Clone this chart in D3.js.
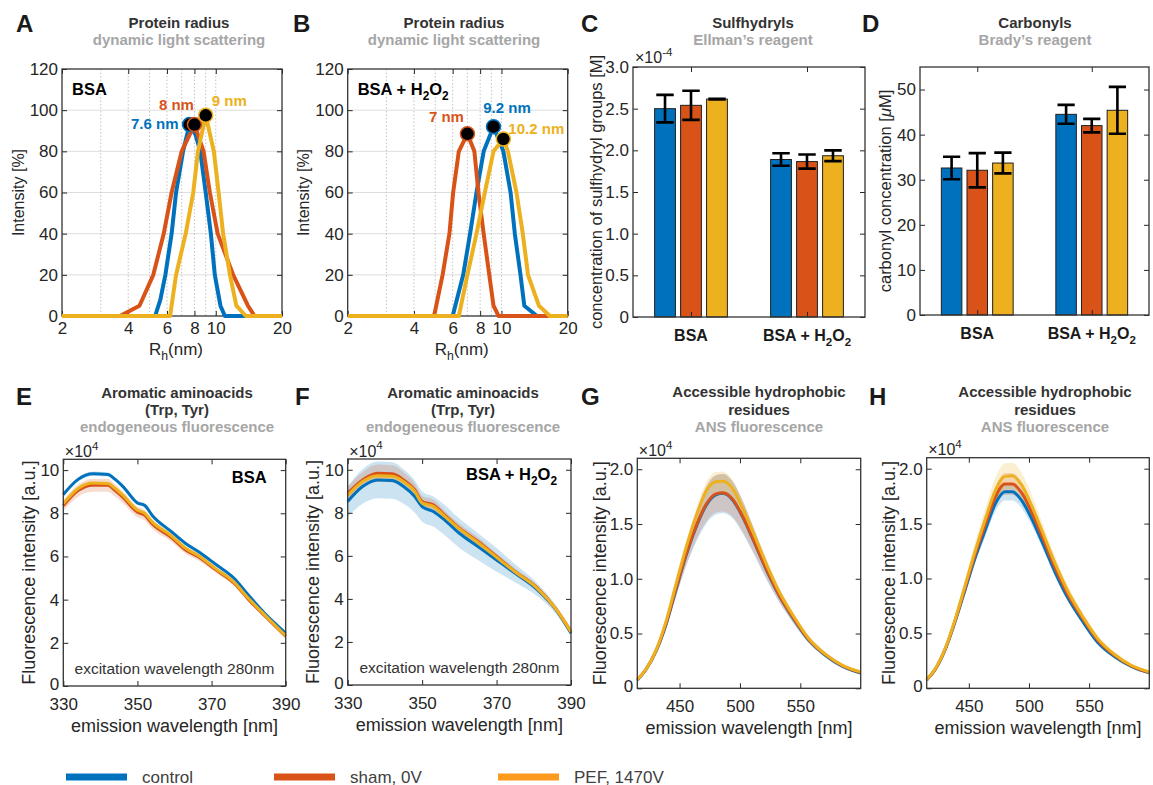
<!DOCTYPE html>
<html><head><meta charset="utf-8">
<script src="https://cdn.jsdelivr.net/npm/d3@7"></script>
<style>
body{margin:0;background:#fff;}
svg{display:block;font-family:"Liberation Sans",Arial,Helvetica,sans-serif;}
</style>
</head><body>
<svg id="fig" width="1153" height="785"></svg>
<script>
// ---------------- DATA ----------------
const seriesNames = ["control", "sham, 0V", "PEF, 1470V"];
const seriesColors = ["#0072BD", "#D95319", "#EDB120"];
const legendColors = ["#0072BD", "#D95319", "#FD9A1E"];

// DLS (A): BSA, radius [nm] vs intensity [%]
const dlsBSA_control_r = [2, 5.3, 5.6, 5.9, 6.3, 6.6, 7.1, 7.6, 8.1, 8.5, 9.0, 9.5, 9.9, 10.5, 11.0, 20];
const dlsBSA_control_i = [0, 0, 8, 20, 40, 60, 80, 93, 88, 80, 60, 40, 20, 5, 0, 0];
const dlsBSA_sham_r = [2, 3.67, 4.5, 5.2, 5.8, 6.3, 7.0, 8.0, 8.8, 9.4, 10.2, 12.0, 14.0, 15.0, 20];
const dlsBSA_sham_i = [0, 0, 5, 20, 40, 60, 80, 93, 80, 60, 40, 20, 5, 0, 0];
const dlsBSA_pef_r = [2, 6.2, 6.6, 7.3, 7.9, 8.3, 9.0, 9.8, 10.3, 10.8, 11.6, 12.4, 13.7, 20];
const dlsBSA_pef_i = [0, 0, 20, 40, 60, 80, 97.5, 80, 60, 40, 20, 5, 0, 0];
const peakBSA_r = [7.6, 8, 9];
const peakBSA_i = [93, 93, 97.5];
const peakBSA_labels = ["7.6 nm", "8 nm", "9 nm"];

// DLS (B): BSA + H2O2
const dlsH2O2_control_r = [2, 6.0, 6.7, 7.2, 7.7, 8.3, 9.2, 10.2, 11.0, 11.5, 12.2, 12.7, 14.5, 20];
const dlsH2O2_control_i = [0, 0, 20, 40, 60, 80, 92, 80, 60, 40, 20, 5, 0, 0];
const dlsH2O2_sham_r = [2, 4.94, 5.4, 5.8, 6.03, 6.4, 7.0, 7.53, 7.86, 8.3, 8.8, 9.2, 9.7, 20];
const dlsH2O2_sham_i = [0, 0, 20, 40, 60, 80, 88.5, 80, 60, 40, 20, 5, 0, 0];
const dlsH2O2_pef_r = [2, 6.4, 7.0, 7.7, 8.4, 9.2, 10.2, 10.7, 11.7, 12.5, 13.2, 14.8, 16.6, 20];
const dlsH2O2_pef_i = [0, 0, 20, 40, 60, 80, 86, 80, 60, 40, 20, 5, 0, 0];
const peakH2O2_r = [9.2, 7, 10.2];
const peakH2O2_i = [92, 88.5, 86];
const peakH2O2_labels = ["9.2 nm", "7 nm", "10.2 nm"];

const dlsTicks = [2, 4, 6, 8, 10, 20];
const dlsGridX = [3, 4, 5, 6, 7, 8, 9, 10];
const intensityTicks = [0, 20, 40, 60, 80, 100, 120];

// Bars (C, D)
const barGroups = ["BSA", "BSA + H2O2"];
const sulfhydrylMean = [[2.50e-4, 2.54e-4, 2.615e-4], [1.89e-4, 1.865e-4, 1.935e-4]];
const sulfhydrylErr = [[0.165e-4, 0.175e-4, 0.004e-4], [0.075e-4, 0.085e-4, 0.065e-4]];
const sulfhydrylTicks = [0, 0.5e-4, 1.0e-4, 1.5e-4, 2.0e-4, 2.5e-4, 3.0e-4];
const carbonylMean = [[32.6, 32.1, 33.7], [44.5, 42.0, 45.4]];
const carbonylErr = [[2.5, 3.8, 2.3], [2.1, 1.5, 5.2]];
const carbonylTicks = [0, 10, 20, 30, 40, 50];

// Fluorescence Trp/Tyr (E, F)  [x10^4 a.u.]
const trpBSA_wl = [330, 334, 338, 342, 344, 346, 350, 352, 354, 359, 363, 367, 371, 376, 380, 385, 390];
const trpBSA_control = [8.87, 9.57, 9.83, 9.8, 9.57, 9.26, 8.48, 8.36, 7.9, 7.17, 6.6, 6.16, 5.65, 5.0, 4.2, 3.25, 2.45];
const trpBSA_controlSd = [0.1, 0.1, 0.1, 0.1, 0.1, 0.1, 0.09, 0.09, 0.08, 0.08, 0.07, 0.07, 0.06, 0.06, 0.05, 0.05, 0.05];
const trpBSA_sham = [8.35, 9.05, 9.3, 9.3, 9.05, 8.75, 8.05, 7.9, 7.5, 6.9, 6.3, 5.92, 5.4, 4.77, 4.0, 3.14, 2.3];
const trpBSA_shamSd = [0.25, 0.28, 0.3, 0.3, 0.28, 0.27, 0.25, 0.24, 0.22, 0.2, 0.18, 0.16, 0.14, 0.12, 0.1, 0.08, 0.06];
const trpBSA_pef = [8.45, 9.15, 9.4, 9.38, 9.15, 8.85, 8.15, 8.0, 7.6, 6.98, 6.38, 5.98, 5.45, 4.82, 4.05, 3.18, 2.33];
const trpBSA_pefSd = [0.08, 0.08, 0.08, 0.08, 0.08, 0.08, 0.07, 0.07, 0.07, 0.06, 0.06, 0.06, 0.05, 0.05, 0.05, 0.04, 0.04];

const trpH2O2_wl = [330, 334, 338, 342, 345, 348, 350, 353, 356, 360, 365, 370, 375, 381, 386, 390];
const trpH2O2_control = [8.53, 9.22, 9.53, 9.5, 9.22, 8.76, 8.29, 8.06, 7.67, 7.05, 6.43, 5.81, 5.19, 4.42, 3.49, 2.4];
const trpH2O2_controlSd = [0.7, 0.8, 0.85, 0.85, 0.8, 0.75, 0.7, 0.7, 0.7, 0.68, 0.62, 0.55, 0.42, 0.3, 0.2, 0.1];
const trpH2O2_sham = [8.91, 9.53, 9.84, 9.81, 9.53, 9.07, 8.53, 8.37, 7.91, 7.29, 6.67, 5.97, 5.27, 4.5, 3.52, 2.48];
const trpH2O2_shamSd = [0.3, 0.35, 0.4, 0.4, 0.35, 0.3, 0.25, 0.25, 0.2, 0.2, 0.2, 0.15, 0.15, 0.12, 0.1, 0.08];
const trpH2O2_pef = [8.8, 9.45, 9.72, 9.7, 9.45, 9.0, 8.45, 8.3, 7.85, 7.25, 6.62, 5.93, 5.25, 4.48, 3.52, 2.47];
const trpH2O2_pefSd = [0.15, 0.15, 0.15, 0.15, 0.14, 0.13, 0.12, 0.12, 0.11, 0.1, 0.09, 0.08, 0.07, 0.06, 0.05, 0.05];
const trpTicksX = [330, 350, 370, 390];
const trpTicksY = [0, 2, 4, 6, 8, 10];

// ANS fluorescence (G, H)  [x10^4 a.u.]
const ans_wl = [415, 422, 431, 439, 447, 455, 464, 472, 480, 486, 494, 502, 511, 522, 533, 544, 557, 571, 585, 600];
const ansBSA_control = [0.076, 0.167, 0.35, 0.59, 0.9, 1.2, 1.48, 1.67, 1.766, 1.78, 1.72, 1.57, 1.355, 1.08, 0.837, 0.64, 0.44, 0.30, 0.2, 0.14];
const ansBSA_controlSd = [0.005, 0.01, 0.02, 0.04, 0.07, 0.1, 0.14, 0.17, 0.18, 0.18, 0.17, 0.15, 0.12, 0.09, 0.06, 0.045, 0.03, 0.02, 0.015, 0.01];
const ansBSA_sham = [0.078, 0.17, 0.355, 0.6, 0.91, 1.21, 1.49, 1.68, 1.775, 1.785, 1.725, 1.575, 1.36, 1.085, 0.84, 0.645, 0.445, 0.305, 0.205, 0.145];
const ansBSA_shamSd = [0.005, 0.01, 0.02, 0.04, 0.07, 0.1, 0.13, 0.16, 0.17, 0.17, 0.16, 0.14, 0.11, 0.08, 0.06, 0.04, 0.03, 0.02, 0.015, 0.01];
const ansBSA_pef = [0.08, 0.17, 0.36, 0.62, 0.95, 1.27, 1.58, 1.8, 1.885, 1.89, 1.82, 1.65, 1.42, 1.13, 0.87, 0.665, 0.455, 0.31, 0.21, 0.15];
const ansBSA_pefSd = [0.004, 0.008, 0.015, 0.03, 0.04, 0.05, 0.07, 0.08, 0.09, 0.09, 0.08, 0.07, 0.06, 0.05, 0.04, 0.03, 0.02, 0.015, 0.01, 0.008];

const ansH2O2_control = [0.076, 0.17, 0.37, 0.62, 0.9, 1.18, 1.45, 1.68, 1.79, 1.79, 1.71, 1.55, 1.33, 1.05, 0.81, 0.62, 0.42, 0.29, 0.2, 0.14];
const ansH2O2_controlSd = [0.004, 0.008, 0.015, 0.025, 0.035, 0.045, 0.06, 0.07, 0.08, 0.08, 0.07, 0.06, 0.05, 0.04, 0.03, 0.025, 0.02, 0.015, 0.01, 0.008];
const ansH2O2_sham = [0.078, 0.172, 0.375, 0.63, 0.92, 1.21, 1.5, 1.74, 1.86, 1.86, 1.78, 1.61, 1.38, 1.09, 0.84, 0.645, 0.44, 0.3, 0.205, 0.145];
const ansH2O2_shamSd = [0.005, 0.01, 0.02, 0.03, 0.045, 0.06, 0.08, 0.09, 0.1, 0.1, 0.09, 0.08, 0.07, 0.05, 0.04, 0.03, 0.02, 0.015, 0.01, 0.008];
const ansH2O2_pef = [0.08, 0.175, 0.38, 0.64, 0.94, 1.24, 1.55, 1.8, 1.93, 1.935, 1.85, 1.67, 1.43, 1.13, 0.87, 0.665, 0.455, 0.31, 0.21, 0.15];
const ansH2O2_pefSd = [0.006, 0.012, 0.025, 0.04, 0.06, 0.08, 0.1, 0.115, 0.12, 0.12, 0.11, 0.1, 0.08, 0.06, 0.05, 0.035, 0.025, 0.018, 0.012, 0.01];
const ansTicksX = [450, 500, 550];
const ansTicksY = [0, 0.5, 1.0, 1.5, 2.0];

// ---------------- DRAWING ----------------
const svg = d3.select("#fig");
svg.append("rect").attr("width", 1153).attr("height", 785).attr("fill", "#fff");
const FONT = '"Liberation Sans",Arial,Helvetica,sans-serif';
const AX = "#262626";

function rich(sel, parts, size) {
  let shift = 0;
  parts.forEach(p => {
    const [t, kind] = Array.isArray(p) ? p : [p, ""];
    const ts = sel.append("tspan").text(t);
    let target = 0;
    if (kind === "sub") { target = size * 0.32; ts.attr("font-size", size * 0.72); }
    if (kind === "sup") { target = -size * 0.45; ts.attr("font-size", size * 0.72); }
    if (kind === "it") ts.attr("font-style", "italic");
    if (target - shift !== 0) ts.attr("dy", target - shift);
    shift = target;
  });
  return sel;
}
function text(x, y, parts, o = {}) {
  const size = o.size || 16;
  const t = svg.append("text").attr("x", x).attr("y", y)
    .attr("font-size", size).attr("font-family", FONT)
    .attr("font-weight", o.weight || "normal")
    .attr("fill", o.fill || AX)
    .attr("text-anchor", o.anchor || "start");
  if (o.rotate) t.attr("transform", `rotate(-90,${x},${y})`);
  return rich(t, Array.isArray(parts) ? parts : [parts], size);
}
const H2O2 = ["BSA + H", ["2", "sub"], "O", ["2", "sub"]];

function axes(g, box, x, y, o) {
  const tl = o.tickLen || 5;
  const yl = g.append("g").attr("transform", `translate(${box.l},0)`)
    .call(d3.axisLeft(y).tickValues(o.yTicks).tickSize(-tl).tickPadding(4).tickFormat(o.yFmt || (d => d)));
  const yr = g.append("g").attr("transform", `translate(${box.r},0)`)
    .call(d3.axisRight(y).tickValues(o.yTicks).tickSize(-tl).tickFormat(""));
  const xb = g.append("g").attr("transform", `translate(0,${box.b})`)
    .call(d3.axisBottom(x).tickValues(o.xTicks).tickSize(-tl).tickPadding(o.xPad || 7).tickFormat(o.xFmt || (d => d)));
  const xt = g.append("g").attr("transform", `translate(0,${box.t})`)
    .call(d3.axisTop(x).tickValues(o.xTicks).tickSize(-tl).tickFormat(""));
  [yl, yr, xb, xt].forEach(a => {
    a.select(".domain").remove();
    a.attr("font-family", FONT).attr("font-size", o.tickFont || 17);
    a.selectAll("line").attr("stroke", AX).attr("stroke-width", 1);
    a.selectAll("text").attr("fill", AX);
  });
  if (o.zeroDy) yl.selectAll(".tick text").filter(d => d === 0).attr("dy", o.zeroDy);
  if (o.xNoLabels) xb.selectAll("text").remove();
  g.append("rect").attr("x", box.l).attr("y", box.t).attr("width", box.r - box.l).attr("height", box.b - box.t)
    .attr("fill", "none").attr("stroke", "#333").attr("stroke-width", 1.3);
}

function titles(x, lines, subY, sub) {
  lines.forEach(([y, t]) => text(x, y, t, { size: 15, weight: "bold", fill: "#333", anchor: "middle" }));
  text(x, subY, sub, { size: 15, weight: "bold", fill: "#a6a6a6", anchor: "middle" });
}
function letter(x, y, t) { text(x, y, t, { size: 24, weight: "bold", fill: "#1a1a1a" }); }

// ----- DLS panels -----
function dlsPanel(box, curves, peaks, peakLabels, peakOffsets, labelParts, yLabelX) {
  const g = svg.append("g");
  const x = d3.scaleLog().domain([2, 20]).range([box.l, box.r]);
  const y = d3.scaleLinear().domain([0, 120]).range([box.b, box.t]);
  g.append("g").selectAll("line").data(intensityTicks.slice(1, -1)).join("line")
    .attr("x1", box.l).attr("x2", box.r).attr("y1", d => y(d)).attr("y2", d => y(d))
    .attr("stroke", "#dedede").attr("stroke-width", 1);
  g.append("g").selectAll("line").data(dlsGridX).join("line")
    .attr("x1", d => x(d)).attr("x2", d => x(d)).attr("y1", box.t).attr("y2", box.b)
    .attr("stroke", "#bdbdbd").attr("stroke-width", 0.9).attr("stroke-dasharray", "1.5,2");
  axes(g, box, x, y, { yTicks: intensityTicks, xTicks: dlsTicks, xPad: 6 });
  const line = d3.line().x(d => x(d[0])).y(d => y(d[1]));
  const clip = "clip" + Math.round(box.l);
  svg.append("clipPath").attr("id", clip).append("rect").attr("x", box.l).attr("y", box.t)
    .attr("width", box.r - box.l).attr("height", box.b - box.t + 3);
  curves.forEach((c, i) => {
    g.append("path").attr("clip-path", `url(#${clip})`).datum(d3.zip(c[0], c[1])).attr("d", line)
      .attr("fill", "none").attr("stroke", seriesColors[i]).attr("stroke-width", 4).attr("stroke-linejoin", "round");
  });
  peaks[0].forEach((r, i) => {
    const k = peaks[2][i];
    g.append("circle").attr("cx", x(r)).attr("cy", y(peaks[1][i])).attr("r", 7)
      .attr("fill", "#000").attr("stroke", seriesColors[k]).attr("stroke-width", 1.5);
    const off = peakOffsets[i];
    text(x(r) + off[0], y(peaks[1][i]) + off[1], peakLabels[i], { size: 15, weight: "bold", fill: seriesColors[k], anchor: off[2] });
  });
  text(box.l + 10, box.t + 26, labelParts, { size: 16.5, weight: "bold", fill: "#000" });
  text(yLabelX, (box.t + box.b) / 2, "Intensity [%]", { size: 16, anchor: "middle", rotate: true });
  text((box.l + box.r) / 2 + 4, box.b + 39, ["R", ["h", "sub"], "(nm)"], { size: 17, anchor: "middle" });
}

const boxA = { l: 62, t: 69, r: 282, b: 316 };
const boxB = { l: 347.7, t: 69, r: 567.7, b: 316 };
dlsPanel(boxA,
  [[dlsBSA_control_r, dlsBSA_control_i], [dlsBSA_sham_r, dlsBSA_sham_i], [dlsBSA_pef_r, dlsBSA_pef_i]],
  [peakBSA_r, peakBSA_i, [0, 1, 2]], peakBSA_labels,
  [[-11, 4, "end"], [-18, -14.5, "middle"], [6, -9, "start"]], "BSA", 24);
dlsPanel(boxB,
  [[dlsH2O2_control_r, dlsH2O2_control_i], [dlsH2O2_sham_r, dlsH2O2_sham_i], [dlsH2O2_pef_r, dlsH2O2_pef_i]],
  [peakH2O2_r, peakH2O2_i, [0, 1, 2]], peakH2O2_labels,
  [[13.5, -13.5, "middle"], [-21, -12, "middle"], [5, -5, "start"]], H2O2, 309);

// ----- bar panels -----
function barPanel(box, means, errs, yMax, yTicks, yFmt, yLabel, yLabelX) {
  const g = svg.append("g");
  const x0 = d3.scaleBand().domain(barGroups).range([box.l, box.r]);
  const bw = x0.bandwidth();
  const x1 = d3.scaleBand().domain(seriesNames).range([-bw * 0.336, bw * 0.336]).paddingInner(0.2).paddingOuter(0.1);
  const y = d3.scaleLinear().domain([0, yMax]).range([box.b, box.t]);
  barGroups.forEach((grp, gi) => {
    seriesNames.forEach((s, si) => {
      const cx = x0(grp) + bw / 2 + x1(s);
      g.append("rect").attr("x", cx).attr("width", x1.bandwidth())
        .attr("y", y(means[gi][si])).attr("height", box.b - y(means[gi][si]))
        .attr("fill", seriesColors[si]).attr("stroke", "#1f1f1f").attr("stroke-width", 1);
    });
  });
  barGroups.forEach((grp, gi) => {
    seriesNames.forEach((s, si) => {
      const c = x0(grp) + bw / 2 + x1(s) + x1.bandwidth() / 2;
      const hi = y(means[gi][si] + errs[gi][si]), lo = y(means[gi][si] - errs[gi][si]);
      const cw = x1.bandwidth() * 0.42;
      g.append("path").attr("d", `M${c},${hi}V${lo}M${c - cw},${hi}H${c + cw}M${c - cw},${lo}H${c + cw}`)
        .attr("stroke", "#000").attr("stroke-width", 2.6).attr("fill", "none");
    });
  });
  const xc = d3.scaleLinear().domain([0.5, 2.5]).range([box.l, box.r]);
  axes(g, box, xc, y, { yTicks, xTicks: [1, 2], yFmt, xNoLabels: true });
  text(x0("BSA") + bw / 2, box.b + 24, "BSA", { size: 16, weight: "bold", anchor: "middle", fill: "#1a1a1a" });
  text(x0("BSA + H2O2") + bw / 2, box.b + 24, H2O2, { size: 16, weight: "bold", anchor: "middle", fill: "#1a1a1a" });
  text(yLabelX, (box.t + box.b) / 2, yLabel, { size: 16.5, anchor: "middle", rotate: true });
}
const boxC = { l: 633, t: 67, r: 865, b: 317 };
const boxD = { l: 920, t: 67, r: 1149, b: 315 };
barPanel(boxC, sulfhydrylMean, sulfhydrylErr, 3e-4, sulfhydrylTicks,
  d => d === 0 ? "0" : (d / 1e-4).toFixed(1), "concentration of sulfhydryl groups [M]", 602);
text(boxC.l + 2, boxC.t - 4, ["×10", ["-4", "sup"]], { size: 16 });
barPanel(boxD, carbonylMean, carbonylErr, 55, carbonylTicks, d => d,
  ["carbonyl concentration  [", ["μ", "it"], "M]"], 891);

// ----- fluorescence panels -----
function fluoPanel(box, xDom, yMax, xTicks, yTicks, yFmt, wl, series, yLabelX) {
  const g = svg.append("g");
  const x = d3.scaleLinear().domain(xDom).range([box.l, box.r]);
  const y = d3.scaleLinear().domain([0, yMax]).range([box.b, box.t]);
  const area = d3.area().curve(d3.curveMonotoneX).x((d, i) => x(wl[i])).y0(d => y(d[0] - d[1])).y1(d => y(d[0] + d[1]));
  const line = d3.line().curve(d3.curveMonotoneX).x((d, i) => x(wl[i])).y(d => y(d));
  series.forEach((s, i) => {
    g.append("path").datum(d3.zip(s[0], s[1])).attr("d", area).attr("fill", seriesColors[i]).attr("fill-opacity", 0.2);
  });
  series.forEach((s, i) => {
    g.append("path").datum(s[0]).attr("d", line).attr("fill", "none")
      .attr("stroke", seriesColors[i]).attr("stroke-width", 3).attr("stroke-linejoin", "round");
  });
  axes(g, box, x, y, { yTicks, xTicks, yFmt, xPad: 12, zeroDy: "0.2em" });
  text(box.l + 1.5, box.t - 2.5, ["×10", ["4", "sup"]], { size: 16 });
  text(yLabelX, (box.t + box.b) / 2, "Fluorescence intensity [a.u.]", { size: 18, anchor: "middle", rotate: true });
  text((box.l + box.r) / 2, box.b + 46, "emission wavelength [nm]", { size: 18, anchor: "middle" });
  return { x, y };
}
const boxE = { l: 63.3, t: 459.3, r: 285.7, b: 686 };
const boxF = { l: 347.7, t: 459, r: 571, b: 685 };
const boxG = { l: 637.3, t: 458.3, r: 860.7, b: 688.3 };
const boxH = { l: 926.7, t: 457.7, r: 1149.3, b: 688.3 };
fluoPanel(boxE, [330, 390], 10.5, trpTicksX, trpTicksY, d => d, trpBSA_wl,
  [[trpBSA_control, trpBSA_controlSd], [trpBSA_sham, trpBSA_shamSd], [trpBSA_pef, trpBSA_pefSd]], 35);
text(boxE.r - 19, boxE.t + 24, "BSA", { size: 16.5, weight: "bold", fill: "#000", anchor: "end" });
text((boxE.l + boxE.r) / 2, boxE.b - 12, "excitation wavelength 280nm", { size: 15.5, anchor: "middle", fill: "#333" });
fluoPanel(boxF, [330, 390], 10.5, trpTicksX, trpTicksY, d => d, trpH2O2_wl,
  [[trpH2O2_control, trpH2O2_controlSd], [trpH2O2_sham, trpH2O2_shamSd], [trpH2O2_pef, trpH2O2_pefSd]], 319);
text(boxF.r - 14, boxF.t + 21, H2O2, { size: 16.5, weight: "bold", fill: "#000", anchor: "end" });
text((boxF.l + boxF.r) / 2, boxF.b - 12, "excitation wavelength 280nm", { size: 15.5, anchor: "middle", fill: "#333" });
const ansFmt = d => d === 0 ? "0" : d.toFixed(1);
fluoPanel(boxG, [415, 600], 2.1, ansTicksX, ansTicksY, ansFmt, ans_wl,
  [[ansBSA_control, ansBSA_controlSd], [ansBSA_sham, ansBSA_shamSd], [ansBSA_pef, ansBSA_pefSd]], 606);
fluoPanel(boxH, [415, 600], 2.1, ansTicksX, ansTicksY, ansFmt, ans_wl,
  [[ansH2O2_control, ansH2O2_controlSd], [ansH2O2_sham, ansH2O2_shamSd], [ansH2O2_pef, ansH2O2_pefSd]], 895);

// ----- titles and letters -----
titles(179, [[28, "Protein radius"]], 44.5, "dynamic light scattering");
titles(454, [[28, "Protein radius"]], 44.5, "dynamic light scattering");
titles(753, [[28, "Sulfhydryls"]], 44.5, "Ellman’s reagent");
titles(1035, [[28, "Carbonyls"]], 44.5, "Brady’s reagent");
titles(177, [[398, "Aromatic aminoacids"], [414.5, "(Trp, Tyr)"]], 431.5, "endogeneous fluorescence");
titles(463, [[398, "Aromatic aminoacids"], [414.5, "(Trp, Tyr)"]], 431.5, "endogeneous fluorescence");
titles(759, [[397, "Accessible hydrophobic"], [414.5, "residues"]], 432, "ANS fluorescence");
titles(1045, [[397, "Accessible hydrophobic"], [414.5, "residues"]], 432, "ANS fluorescence");
letter(16, 32, "A"); letter(293, 32, "B"); letter(581, 32, "C"); letter(862, 32, "D");
letter(16, 405, "E"); letter(295, 405, "F"); letter(581, 405, "G"); letter(869, 405, "H");

// ----- legend -----
const legX = d3.scaleOrdinal().domain(seriesNames).range([66, 274, 498]);
seriesNames.forEach((s, i) => {
  svg.append("line").attr("x1", legX(s)).attr("x2", legX(s) + 61).attr("y1", 777).attr("y2", 777)
    .attr("stroke", legendColors[i]).attr("stroke-width", 7);
  text(legX(s) + 76, 782.5, s, { size: 17, fill: "#404040" });
});
</script>
</body></html>
